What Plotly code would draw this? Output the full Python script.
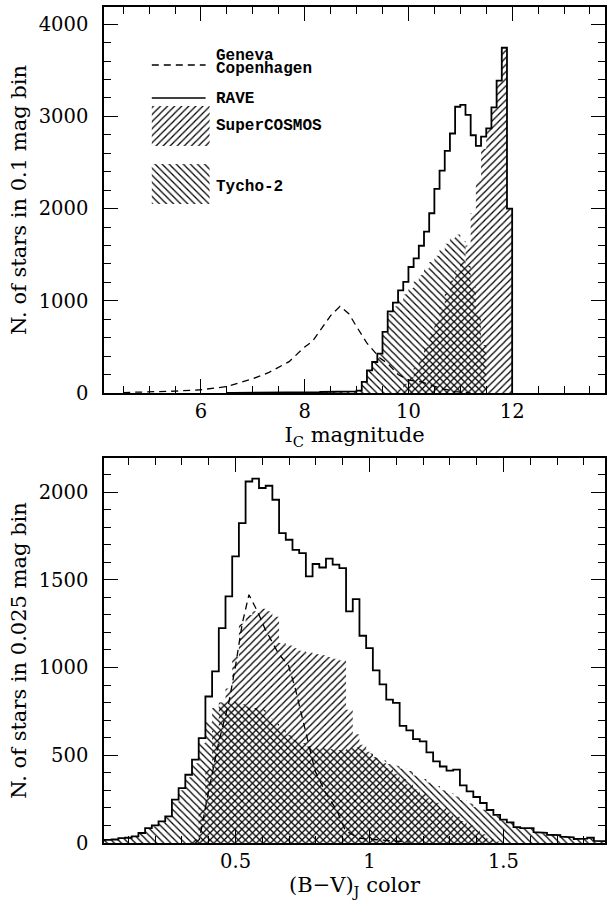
import numpy as np
import plotly.graph_objects as go

# ---------------- DATA ----------------
# Top panel: I_C magnitude, 0.1 mag bins (left edge of first bin = IC_START)
IC_START = 6.5
IC_WIDTH = 0.1
rave_ic = [2, 2, 3, 3, 4,
           4, 5, 5, 6, 6, 7, 7, 8, 8, 9,
           9, 10, 10, 11, 12, 13, 14, 15, 16, 18,
           25,
           120, 246, 336, 427, 662, 885, 980, 1114, 1205, 1367,
           1460, 1597, 1750, 1950, 2214, 2413, 2626, 2815, 3105, 3125,
           3017, 2796, 2680, 2780, 2870, 3099, 3388, 3745, 2000]
tycho_ic = [2, 2, 3, 3, 4,
            4, 5, 5, 6, 6, 7, 7, 8, 8, 9,
            9, 10, 10, 11, 12, 13, 14, 15, 16, 18,
            25,
            120, 240, 330, 420, 650, 860, 940, 1010, 1070, 1140,
            1210, 1280, 1350, 1420, 1490, 1550, 1620, 1680, 1720, 1650,
            1380, 1150, 850, 520, 0, 0, 0, 0, 0]
scos_ic = [0, 0, 0, 0, 0,
           0, 0, 0, 0, 0, 0, 0, 0, 0, 0,
           0, 0, 0, 0, 0, 0, 0, 0, 0, 0,
           0,
           0, 0, 0, 0, 0, 0, 10, 40, 100, 170,
           270, 380, 500, 640, 780, 930, 1080, 1220, 1330, 1420,
           1600, 1950, 2300, 2650, 2870, 3099, 3388, 3745, 2000]
gc_ic_mag = [4.5, 5.0, 5.5, 6.0, 6.5, 7.0, 7.3, 7.7, 8.0, 8.15, 8.35, 8.5, 8.68,
             8.85, 9.0, 9.2, 9.45, 9.6, 9.8, 10.0, 10.25, 10.6, 10.9, 11.2]
gc_ic_n = [5, 10, 20, 35, 70, 155, 220, 340, 500, 560, 720, 840, 940,
           860, 720, 540, 380, 320, 200, 140, 120, 55, 15, 0]

# Bottom panel: (B-V)_J colour, 0.025 mag bins (centre of first bin = BV_CENTER0)
BV_CENTER0 = 0.0
BV_WIDTH = 0.025
rave_bv = [15, 18, 20, 28, 30, 38, 57, 85, 100, 123,
           152, 247, 313, 389, 475, 598, 835, 978, 1225, 1405,
           1633, 1823, 2060, 2076, 2023, 2036, 1956, 1766, 1728, 1671,
           1652, 1519, 1590, 1570, 1620, 1586, 1567, 1320, 1390, 1181,
           1111, 984, 904, 817, 798, 668, 642, 592, 579, 516,
           465, 436, 412, 418, 328, 294, 262, 228, 188, 160,
           133, 118, 91, 85, 85, 62, 58, 47, 45, 36,
           32, 23, 25, 30, 12, 10]
tycho_bv = [10, 14, 18, 25, 28, 36, 55, 82, 95, 118,
            148, 235, 300, 375, 455, 570, 690, 770, 800, 795,
            805, 790, 780, 770, 760, 710, 680, 645, 615, 590,
            570, 550, 540, 540, 535, 530, 530, 540, 545, 535,
            510, 490, 470, 450, 440, 425, 410, 385, 365, 345,
            325, 300, 285, 265, 245, 225, 205, 190, 175, 155,
            130, 115, 90, 84, 84, 62, 56, 46, 44, 35,
            30, 22, 22, 25, 10, 8]
scos_bv = [0, 0, 0, 0, 0, 0, 0, 0, 0, 0,
           0, 0, 0, 0, 20, 200, 420, 640, 800, 880,
           1060, 1250, 1300, 1320, 1335, 1320, 1290, 1140, 1125, 1110,
           1095, 1085, 1075, 1070, 1060, 1050, 1040, 760, 620, 560,
           520, 485, 455, 425, 395, 365, 335, 305, 280, 255,
           230, 200, 175, 150, 125, 100, 75, 50, 25, 8,
           0, 0, 0, 0, 0, 0, 0, 0, 0, 0,
           0, 0, 0, 0, 0, 0]
gc_bv_col = [0.35, 0.365, 0.4, 0.438, 0.475, 0.5, 0.525, 0.55, 0.585, 0.61, 0.66,
             0.698, 0.723, 0.748, 0.772, 0.797, 0.835, 0.88, 0.91, 0.96, 1.0, 1.08, 1.15]
gc_bv_n = [0, 20, 300, 580, 800, 1010, 1250, 1415, 1310, 1220, 1080,
           1010, 880, 720, 560, 410, 290, 180, 70, 28, 22, 15, 5]

ic_xticks = [6, 8, 10, 12]
bv_xticks = [0.5, 1, 1.5]

legend_labels = ["Geneva", "Copenhagen", "RAVE", "SuperCOSMOS", "Tycho-2"]

# ---------------- LAYOUT CONSTANTS ----------------
W, H = 608, 902
ML, MR, MT, MB = 104, 1, 7, 59
PW = W - ML - MR
PH = H - MT - MB
TOP_PX = (7, 393)      # pixel top/bottom of upper panel
BOT_PX = (458, 843)    # pixel top/bottom of lower panel
top_dom = [1 - (TOP_PX[1] - MT) / PH, 1 - (TOP_PX[0] - MT) / PH]
bot_dom = [1 - (BOT_PX[1] - MT) / PH, 1 - (BOT_PX[0] - MT) / PH]
X1_RANGE = [4.13, 13.79]
Y1_RANGE = [0, 4187]
X2_RANGE = [0.009, 1.879]
Y2_RANGE = [0, 2194]

SERIF = "DejaVu Serif"
TICKF = dict(family=SERIF, size=19.5, color="black")
TITLEF = dict(family=SERIF, size=21, color="black")
LEGF = dict(family="Liberation Mono", size=16, color="black", weight="bold")


def steps(edges, vals):
    vals = np.asarray(vals, dtype=float)
    x = np.column_stack([edges[:-1], edges[1:]]).ravel()
    y = np.repeat(vals, 2)
    x = np.concatenate([[edges[0]], x, [edges[-1]]])
    y = np.concatenate([[0], y, [0]])
    return x, y


ic_edges = IC_START + IC_WIDTH * np.arange(len(rave_ic) + 1)
bv_edges = BV_CENTER0 - BV_WIDTH / 2 + BV_WIDTH * np.arange(len(rave_bv) + 1)


def pat(shape):
    return dict(shape=shape, fgcolor="black", bgcolor="rgba(0,0,0,0)",
                size=5, solidity=0.25, fillmode="replace")


fig = go.Figure()
NOFILL = "rgba(0,0,0,0)"

for (edges, sc, ty, rv, gx, gy, xa, ya) in [
    (ic_edges, scos_ic, tycho_ic, rave_ic, gc_ic_mag, gc_ic_n, "x", "y"),
    (bv_edges, scos_bv, tycho_bv, rave_bv, gc_bv_col, gc_bv_n, "x2", "y2"),
]:
    sx, sy = steps(edges, sc)
    fig.add_trace(go.Scatter(x=sx, y=sy, mode="lines", line=dict(width=0),
                             fill="tozeroy", fillcolor=NOFILL, fillpattern=pat("/"),
                             xaxis=xa, yaxis=ya, showlegend=False, hoverinfo="skip"))
    tx, tyy = steps(edges, ty)
    fig.add_trace(go.Scatter(x=tx, y=tyy, mode="lines", line=dict(width=0),
                             fill="tozeroy", fillcolor=NOFILL, fillpattern=pat("\\"),
                             xaxis=xa, yaxis=ya, showlegend=False, hoverinfo="skip"))
    fig.add_trace(go.Scatter(x=gx, y=gy, mode="lines",
                             line=dict(color="black", width=1.3, dash="7px,5px"),
                             xaxis=xa, yaxis=ya, showlegend=False))
    rx, ry = steps(edges, rv)
    fig.add_trace(go.Scatter(x=rx, y=ry, mode="lines",
                             line=dict(color="black", width=1.8),
                             xaxis=xa, yaxis=ya, showlegend=False))


# ---- legend (upper panel), positioned in pixels ----
def px2data(px, py):
    x = X1_RANGE[0] + (px - ML) / PW * (X1_RANGE[1] - X1_RANGE[0])
    y = Y1_RANGE[0] + (TOP_PX[1] - py) / (TOP_PX[1] - TOP_PX[0]) * (Y1_RANGE[1] - Y1_RANGE[0])
    return x, y


def px2paper(px, py):
    return (px - ML) / PW, 1 - (py - MT) / PH


for (py0, py1, shape) in [(106, 146, "/"), (164, 204, "\\")]:
    x0, y0 = px2data(152, py1)
    x1, y1 = px2data(210, py0)
    fig.add_trace(go.Scatter(x=[x0, x1, x1, x0, x0], y=[y0, y0, y1, y1, y0],
                             mode="lines", line=dict(width=0), fill="toself",
                             fillcolor=NOFILL, fillpattern=pat(shape),
                             xaxis="x", yaxis="y", showlegend=False, hoverinfo="skip"))

for py, dash in [(65, "7px,5px"), (98, "solid")]:
    a0 = px2paper(152, py)
    a1 = px2paper(206, py)
    fig.add_shape(type="line", xref="paper", yref="paper", x0=a0[0], x1=a1[0],
                  y0=a0[1], y1=a1[1], line=dict(color="black", width=1.4, dash=dash))

for label, py in zip(legend_labels, [56, 69, 99, 126, 187]):
    ax, ay = px2paper(214, py)
    fig.add_annotation(text=label, xref="paper", yref="paper", x=ax, y=ay,
                       xanchor="left", yanchor="middle", showarrow=False, font=LEGF)

axis_common = dict(showline=True, linecolor="black", linewidth=1.5, mirror="ticks",
                   ticks="inside", ticklen=14, tickwidth=1.3, tickcolor="black",
                   showgrid=False, zeroline=False, tickfont=TICKF)
minor_common = dict(ticks="inside", ticklen=7, tickwidth=1.2, tickcolor="black", showgrid=False)

fig.update_layout(
    width=W, height=H, margin=dict(l=ML, r=MR, t=MT, b=MB),
    paper_bgcolor="white", plot_bgcolor="white",
    xaxis=dict(domain=[0, 1], anchor="y", range=X1_RANGE, tickvals=ic_xticks,
               minor=dict(dtick=0.5, tick0=0, **minor_common),
               title=dict(text="I<sub>C</sub> magnitude", standoff=4, font=TITLEF),
               **axis_common),
    yaxis=dict(domain=top_dom, anchor="x", range=Y1_RANGE, dtick=1000, tick0=0,
               minor=dict(dtick=200, tick0=0, **minor_common), ticklabelstandoff=10,
               title=dict(text="N. of stars in 0.1 mag bin", standoff=6, font=TITLEF),
               **axis_common),
    xaxis2=dict(domain=[0, 1], anchor="y2", range=X2_RANGE, tickvals=bv_xticks,
                ticktext=["0.5", "1", "1.5"],
                minor=dict(dtick=0.1, tick0=0, **minor_common),
                title=dict(text="(B\u2212V)<sub>J</sub> color", standoff=4, font=TITLEF),
                **axis_common),
    yaxis2=dict(domain=bot_dom, anchor="x2", range=Y2_RANGE, dtick=500, tick0=0,
                minor=dict(dtick=100, tick0=0, **minor_common), ticklabelstandoff=10,
                title=dict(text="N. of stars in 0.025 mag bin", standoff=6, font=TITLEF),
                **axis_common),
)

fig.write_html("out.html")
